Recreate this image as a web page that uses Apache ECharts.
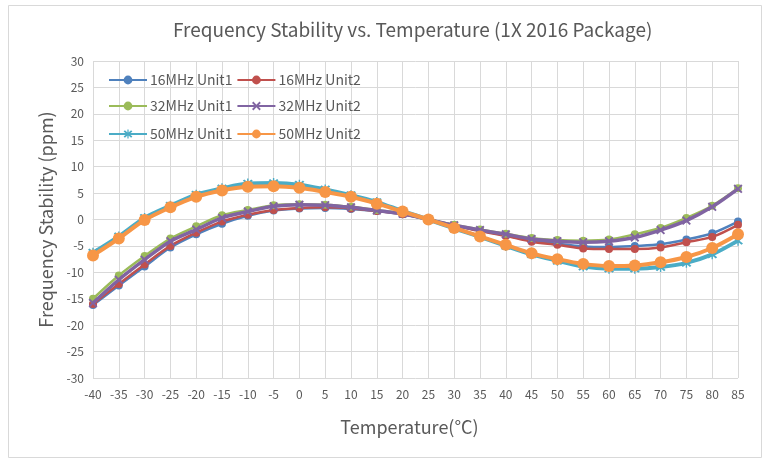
<!DOCTYPE html>
<html><head><meta charset="utf-8">
<script src="https://cdn.jsdelivr.net/npm/echarts@6/dist/echarts.min.js"></script>
<style>html,body{margin:0;padding:0;background:#fff}#c{width:770px;height:467px}</style>
</head><body><div id="c"></div>
<script>
const temps = [-40,-35,-30,-25,-20,-15,-10,-5,0,5,10,15,20,25,30,35,40,45,50,55,60,65,70,75,80,85];
const mhz16u1 = [-16.2,-12.5,-8.9,-5.3,-2.8,-0.8,0.7,1.7,2.1,2.2,2.0,1.6,1.0,0,-1.1,-2.1,-3.0,-4.0,-4.6,-5.1,-5.2,-5.0,-4.7,-3.8,-2.6,-0.4];
const mhz16u2 = [-16.0,-12.2,-8.5,-5.0,-2.5,-0.4,0.9,1.8,2.2,2.3,2.1,1.6,1.0,0,-1.1,-2.2,-3.1,-4.2,-4.8,-5.5,-5.6,-5.6,-5.3,-4.3,-3.3,-1.0];
const mhz32u1 = [-15.0,-10.6,-6.9,-3.6,-1.3,0.8,1.8,2.7,2.9,2.8,2.4,1.8,1.2,0,-1.0,-1.9,-2.7,-3.5,-3.9,-4.0,-3.8,-2.8,-1.6,0.3,2.6,5.9];
const mhz32u2 = [-15.8,-11.4,-7.6,-4.1,-1.9,0.3,1.5,2.5,2.8,2.7,2.3,1.7,1.1,0,-1.1,-2.0,-2.8,-3.7,-4.1,-4.3,-4.1,-3.4,-2.0,-0.2,2.4,5.8];
const mhz50u1 = [-6.3,-3.2,0.3,2.6,4.7,5.9,6.8,6.9,6.6,5.7,4.6,3.3,1.6,0,-1.7,-3.3,-5.0,-6.6,-7.8,-8.9,-9.3,-9.3,-9.0,-8.2,-6.6,-4.0];
const mhz50u2 = [-6.8,-3.6,-0.1,2.3,4.3,5.5,6.2,6.3,6.0,5.2,4.3,3.0,1.5,0,-1.6,-3.2,-4.8,-6.4,-7.5,-8.4,-8.8,-8.7,-8.1,-7.1,-5.4,-2.8];
const seriesNames = ['16MHz Unit1','16MHz Unit2','32MHz Unit1','32MHz Unit2','50MHz Unit1','50MHz Unit2'];
const seriesValues = [mhz16u1, mhz16u2, mhz32u1, mhz32u2, mhz50u1, mhz50u2];

const FONT = '"Noto Sans CJK SC","Noto Sans",sans-serif';
const xSym = 'path://M0,1.5L1.5,0L5,3.5L8.5,0L10,1.5L6.5,5L10,8.5L8.5,10L5,6.5L1.5,10L0,8.5L3.5,5Z';
const starSym = 'path://M0,1.5L1.5,0L5,3.5L8.5,0L10,1.5L6.5,5L10,8.5L8.5,10L5,6.5L1.5,10L0,8.5L3.5,5Z M4.3,-1L5.7,-1L5.7,11L4.3,11Z';
const styles = [
  {color:'#4f81bd', width:2.5, symbol:'circle', size:8},
  {color:'#c0504d', width:2.5, symbol:'circle', size:8},
  {color:'#9bbb59', width:2.5, symbol:'circle', size:8},
  {color:'#8064a2', width:3.5, symbol:xSym, size:9},
  {color:'#4bacc6', width:4, symbol:starSym, size:10},
  {color:'#f79646', width:4, symbol:'circle', size:12}
];
const series = seriesNames.map((n,i)=>({
  name:n, type:'line', smooth:0.3,
  data: temps.map((t,j)=>[t, seriesValues[i][j]]),
  symbol: styles[i].symbol, symbolSize: styles[i].size,
  lineStyle:{color:styles[i].color, width:styles[i].width},
  itemStyle:{color:styles[i].color},
  z: 2+i
}));
const mkLegend = (names, top) => ({
  data:names, left:103, top:top, itemWidth:38, itemHeight:11, itemGap:4,
  textStyle:{color:'#595959', fontSize:14, fontFamily:FONT, padding:[0,0,0,-2]}
});
const chart = echarts.init(document.getElementById('c'));
chart.setOption({
  animation:false,
  backgroundColor:'#fff',
  title:{text:'Frequency Stability vs. Temperature (1X 2016 Package)', left:168, top:15,
    textStyle:{color:'#595959', fontSize:19, fontWeight:'normal', fontFamily:FONT}},
  legend:[mkLegend(seriesNames.slice(0,2),68), mkLegend(seriesNames.slice(2,4),94), mkLegend(seriesNames.slice(4,6),122)],
  grid:{left:93, right:32, top:61, bottom:89},
  xAxis:{type:'value', min:-40, max:85, interval:5,
    name:'Temperature(°C)', nameLocation:'middle', nameGap:40,
    nameTextStyle:{color:'#595959', fontSize:18, fontFamily:FONT, padding:[0,12,0,0]},
    axisLine:{show:true, lineStyle:{color:'#d9d9d9'}}, axisTick:{show:false},
    axisLabel:{color:'#595959', fontSize:12, fontFamily:FONT, margin:10},
    splitLine:{show:true, lineStyle:{color:'#d9d9d9'}}},
  yAxis:{type:'value', min:-30, max:30, interval:5,
    name:'Frequency Stability (ppm)', nameLocation:'middle', nameGap:37, nameRotate:90,
    nameTextStyle:{color:'#595959', fontSize:18, fontFamily:FONT},
    axisLine:{show:false}, axisTick:{show:false},
    axisLabel:{color:'#595959', fontSize:12, fontFamily:FONT, margin:9},
    splitLine:{show:true, lineStyle:{color:'#d9d9d9'}}},
  graphic:[{type:'rect', shape:{x:8.5, y:5.5, width:753, height:452}, style:{fill:'none', stroke:'#d9d9d9', lineWidth:1}, silent:true}],
  series: series
});
</script></body></html>
